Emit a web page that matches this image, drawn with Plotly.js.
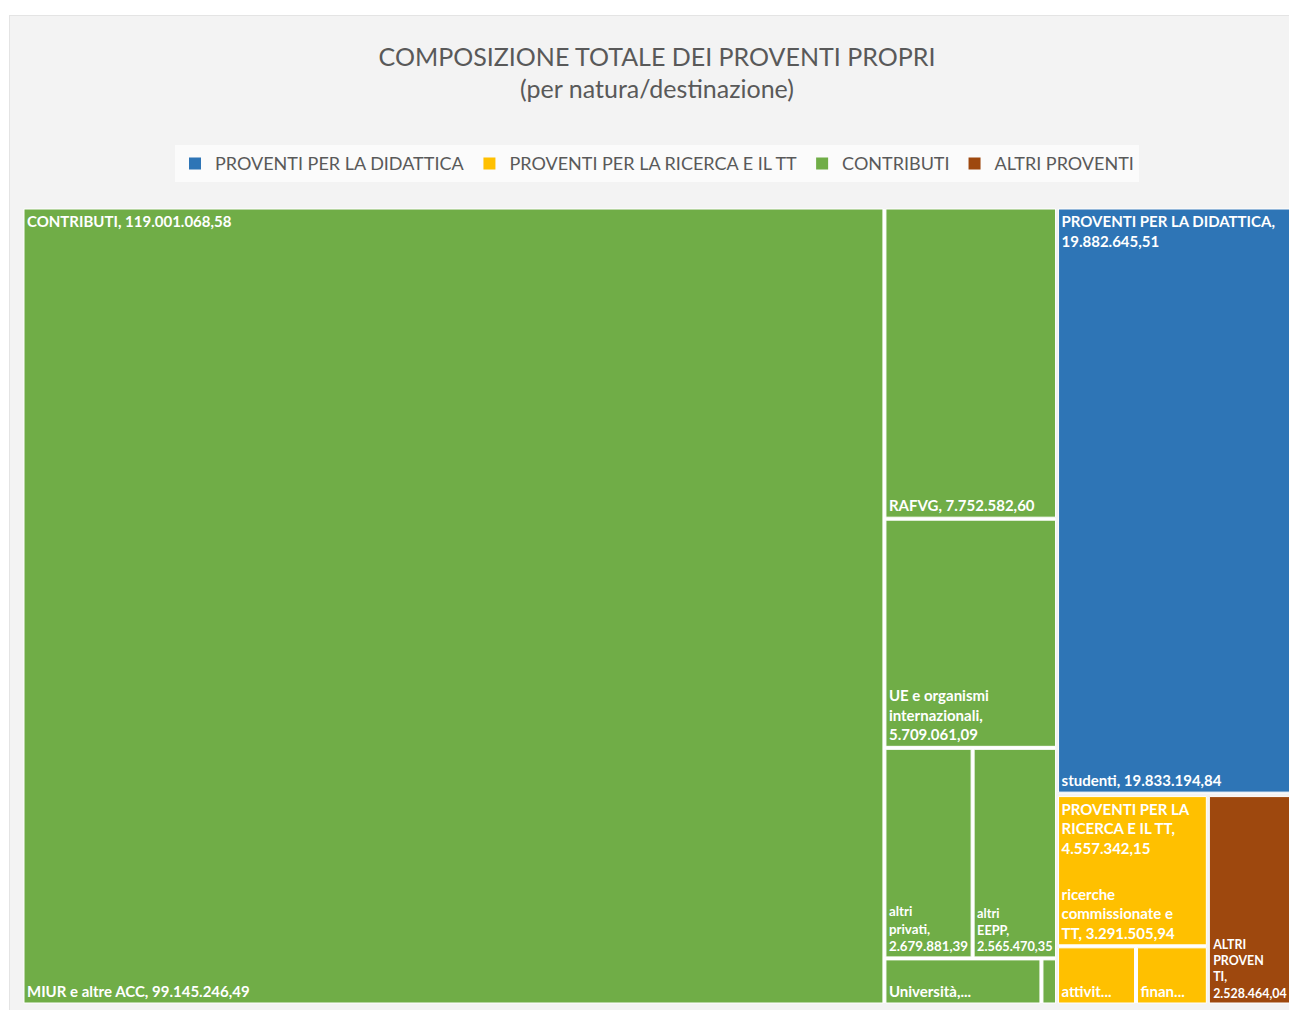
<!DOCTYPE html>
<html>
<head>
<meta charset="utf-8">
<script src="https://cdn.plot.ly/plotly-3.0.1.min.js"></script>
<style>
  html, body { margin: 0; padding: 0; background: #ffffff; }
  #chart { position: absolute; left: 9px; top: 15px; width: 1280px; height: 995px;
           box-sizing: border-box; border: 1px solid #e4e4e4; border-right: none; }
</style>
</head>
<body>
<div id="chart"></div>
<script>
// ---- data ----
const parentNames = ['PROVENTI PER LA DIDATTICA', 'PROVENTI PER LA RICERCA E IL TT', 'CONTRIBUTI', 'ALTRI PROVENTI'];
const parentValues = [19882645.51, 4557342.15, 119001068.58, 2528464.04];
const parentColors = ['#2E75B6', '#FFC000', '#70AD47', '#9E480E'];
const parentHeaderText = ['PROVENTI PER LA DIDATTICA,<br>', 'PROVENTI PER LA<br>RICERCA E IL TT,<br>', 'CONTRIBUTI, ', ''];

const childNames = ['MIUR e altre ACC', 'RAFVG', 'UE e organismi internazionali', 'altri privati', 'altri EEPP', 'Università', 'altri enti',
                    'studenti', 'altri proventi didattica',
                    'ricerche commissionate e TT', 'attività', 'finanziamenti'];
const childParents = ['CONTRIBUTI', 'CONTRIBUTI', 'CONTRIBUTI', 'CONTRIBUTI', 'CONTRIBUTI', 'CONTRIBUTI', 'CONTRIBUTI',
                      'PROVENTI PER LA DIDATTICA', 'PROVENTI PER LA DIDATTICA',
                      'PROVENTI PER LA RICERCA E IL TT', 'PROVENTI PER LA RICERCA E IL TT', 'PROVENTI PER LA RICERCA E IL TT'];
const childValues = [99145246.49, 7752582.60, 5709061.09, 2679881.39, 2565470.35, 1045000.00, 103826.00,
                     19833194.84, 49450.00,
                     3291505.94, 663000.00, 602836.00];
const childLabelText = ['MIUR e altre ACC, %{value:,.2f}', 'RAFVG, %{value:,.2f}', 'UE e organismi<br>internazionali,<br>%{value:,.2f}',
                        'altri<br>privati,<br>%{value:,.2f}', 'altri<br>EEPP,<br>%{value:,.2f}', 'Università,...', ' ',
                        'studenti, %{value:,.2f}', ' ',
                        'ricerche<br>commissionate e<br>TT, %{value:,.2f}', 'attivit...', 'finan...'];
const altriLeafText = 'ALTRI<br>PROVEN<br>TI,<br>%{value:,.2f}';

// ---- build traces ----
const ids = parentNames.concat(childNames);
const parents = parentNames.map(() => '').concat(childParents);
const values = parentValues.concat(childValues);
const hasKids = n => childParents.indexOf(n) >= 0;
// parents that hold children are painted white so the gaps between their tiles read as white separators
const colors = parentNames.map((n, i) => hasKids(n) ? '#ffffff' : parentColors[i])
  .concat(childParents.map(p => parentColors[parentNames.indexOf(p)]));
const templates = parentNames.map(n => n === 'ALTRI PROVENTI' ? altriLeafText : ' ').concat(childLabelText);
const lineWidths = parentNames.map(n => hasKids(n) ? 0 : 1).concat(childNames.map(() => 1));

const textFont = { family: 'Lato, "Open Sans", sans-serif', size: 15, color: '#ffffff', weight: 'bold' };
const noPad = { t: 0, l: 0, r: 0, b: 0 };

const tiles = {
  type: 'treemap',
  ids: ids, labels: ids, parents: parents, values: values,
  branchvalues: 'total',
  marker: { colors: colors, line: { color: '#ffffff', width: lineWidths }, pad: noPad },
  texttemplate: templates,
  textposition: 'bottom left',
  textfont: textFont,
  pathbar: { visible: false },
  tiling: { packing: 'squarify', squarifyratio: 1.38 },
  hovertemplate: '%{label}<br>%{value:,.2f}<extra></extra>',
  showlegend: false
};

const headers = {
  type: 'treemap',
  ids: parentNames, labels: parentNames, parents: parentNames.map(() => ''), values: parentValues,
  branchvalues: 'total',
  marker: { colors: parentNames.map(() => 'rgba(0,0,0,0)'), line: { width: 0 }, pad: noPad },
  texttemplate: parentHeaderText.map(t => t === '' ? ' ' : t + '%{value:,.2f}'),
  textposition: 'top left',
  textfont: textFont,
  pathbar: { visible: false },
  tiling: { packing: 'squarify', squarifyratio: 1.38 },
  hoverinfo: 'skip',
  showlegend: false
};

const legendTraces = parentNames.map((n, i) => ({
  type: 'scatter', mode: 'markers', x: [null], y: [null], name: n,
  marker: { symbol: 'square', size: 15, color: parentColors[i] },
  showlegend: true, hoverinfo: 'skip'
}));

const layout = {
  width: 1280, height: 995,
  margin: { l: 14, r: 0, t: 193, b: 8 },
  paper_bgcolor: '#f3f3f3',
  plot_bgcolor: 'rgba(0,0,0,0)',
  separators: ',.',
  font: { family: 'Lato, "Open Sans", sans-serif', color: '#595959' },
  title: {
    text: 'COMPOSIZIONE TOTALE DEI PROVENTI PROPRI<br>(per natura/destinazione)',
    font: { size: 25, color: '#595959', family: 'Lato, "Open Sans", sans-serif' },
    x: 0.5, xref: 'paper', xanchor: 'center',
    y: 0.95, yref: 'container', yanchor: 'top'
  },
  xaxis: { visible: false },
  yaxis: { visible: false },
  showlegend: true,
  legend: {
    orientation: 'h', x: 0.5, xanchor: 'center', y: 1.057, yanchor: 'middle',
    bgcolor: '#fbfbfb', borderwidth: 0,
    font: { size: 18, color: '#595959', family: 'Lato, "Open Sans", sans-serif' },
    itemsizing: 'constant'
  }
};

Plotly.newPlot('chart', legendTraces.concat([tiles, headers]), layout, { displayModeBar: false, responsive: false });
</script>
</body>
</html>
